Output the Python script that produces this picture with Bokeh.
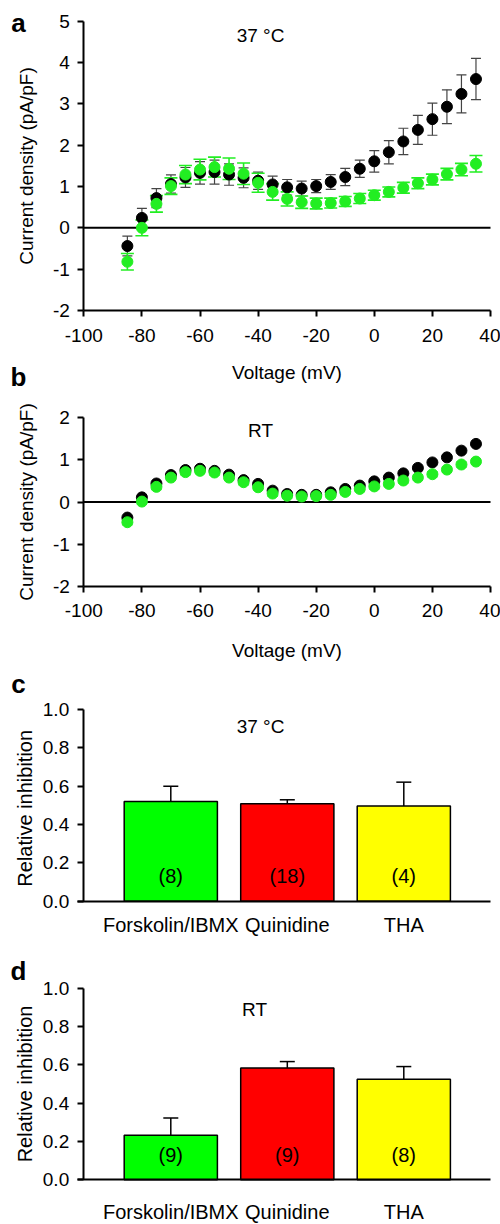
from bokeh.plotting import figure
from bokeh.layouts import column
from bokeh.models import (Range1d, Label, Whisker, TeeHead, ColumnDataSource,
                          FixedTicker, NumeralTickFormatter)
from bokeh.core.properties import value
from bokeh.embed import file_html
from bokeh.resources import INLINE

FONT = "Liberation Sans"

# ---------------- data ----------------
voltage = [-85, -80, -75, -70, -65, -60, -55, -50, -45, -40, -35, -30, -25,
           -20, -15, -10, -5, 0, 5, 10, 15, 20, 25, 30, 35]

a_black = [-0.44, 0.24, 0.72, 1.06, 1.22, 1.33, 1.35, 1.29, 1.21, 1.14, 1.05, 0.98, 0.95,
           1.01, 1.11, 1.23, 1.43, 1.61, 1.83, 2.09, 2.37, 2.63, 2.93, 3.24, 3.60]
a_black_err = [0.24, 0.23, 0.23, 0.22, 0.24, 0.27, 0.29, 0.26, 0.24, 0.21, 0.20, 0.19, 0.18,
               0.16, 0.18, 0.21, 0.21, 0.26, 0.28, 0.32, 0.35, 0.39, 0.41, 0.46, 0.50]
a_green = [-0.82, 0.00, 0.58, 1.01, 1.29, 1.41, 1.47, 1.43, 1.31, 1.09, 0.87, 0.70, 0.62,
           0.59, 0.60, 0.64, 0.71, 0.79, 0.87, 0.97, 1.08, 1.17, 1.30, 1.41, 1.55]
a_green_err = [0.20, 0.19, 0.20, 0.20, 0.22, 0.25, 0.24, 0.26, 0.26, 0.23, 0.20, 0.17, 0.15,
               0.13, 0.12, 0.12, 0.12, 0.12, 0.12, 0.13, 0.13, 0.13, 0.14, 0.15, 0.20]

b_black = [-0.37, 0.11, 0.44, 0.64, 0.76, 0.79, 0.74, 0.65, 0.52, 0.43, 0.27, 0.19, 0.17,
           0.17, 0.23, 0.31, 0.39, 0.49, 0.58, 0.68, 0.81, 0.94, 1.06, 1.22, 1.38]
b_black_err = [0.04, 0.04, 0.04, 0.04, 0.04, 0.04, 0.04, 0.04, 0.04, 0.04, 0.04, 0.04, 0.04,
               0.04, 0.04, 0.04, 0.04, 0.04, 0.04, 0.04, 0.04, 0.05, 0.05, 0.05, 0.06]
b_green = [-0.48, 0.01, 0.36, 0.58, 0.71, 0.74, 0.70, 0.58, 0.47, 0.35, 0.20, 0.15, 0.13,
           0.14, 0.17, 0.24, 0.31, 0.37, 0.43, 0.51, 0.58, 0.66, 0.77, 0.89, 0.96]
b_green_err = [0.06, 0.06, 0.06, 0.06, 0.06, 0.06, 0.06, 0.06, 0.06, 0.06, 0.06, 0.06, 0.06,
               0.06, 0.06, 0.06, 0.06, 0.06, 0.06, 0.06, 0.06, 0.06, 0.06, 0.06, 0.06]

x_ticks = [-100, -80, -60, -40, -20, 0, 20, 40]

drugs = ["Forskolin/IBMX", "Quinidine", "THA"]
bar_colors = ["#00ff00", "#ff0000", "#ffff00"]
c_vals = [0.52, 0.508, 0.496]
c_err = [0.08, 0.021, 0.125]
c_n = ["(8)", "(18)", "(4)"]
d_vals = [0.233, 0.584, 0.525]
d_err = [0.09, 0.033, 0.066]
d_n = ["(9)", "(9)", "(8)"]
bar_ticks = [0, 0.2, 0.4, 0.6, 0.8, 1.0]

GREEN = "#22ee22"
W = 500


class Panel:
    """A figure whose frame fills the canvas; axes are pinned with fixed_location."""

    def __init__(self, H, xd, xpx, yd, ypx):
        sx = (xpx[1] - xpx[0]) / (xd[1] - xd[0])
        sy = (ypx[1] - ypx[0]) / (yd[1] - yd[0])          # ypx: (top px, bottom px)
        self.x0 = xd[0] - xpx[0] / sx
        self.sx = sx
        self.y1 = yd[1] + ypx[0] / sy
        self.sy = sy
        x1 = xd[1] + (W - xpx[1]) / sx
        y0 = yd[0] - (H - ypx[1]) / sy
        self.p = figure(width=W, height=H, output_backend="svg", toolbar_location=None,
                        title=None, x_range=Range1d(self.x0, x1),
                        y_range=Range1d(y0, self.y1), min_border=0)

    def px(self, x):
        return self.x0 + x / self.sx

    def py(self, y):
        return self.y1 - y / self.sy


def style(p):
    p.xgrid.visible = False
    p.ygrid.visible = False
    p.outline_line_color = None
    p.background_fill_color = "white"
    p.border_fill_color = "white"
    for ax in (p.xaxis[0], p.yaxis[0]):
        ax.axis_line_width = 2
        ax.axis_line_color = "black"
        ax.major_tick_line_width = 2
        ax.major_tick_line_color = "black"
        ax.major_tick_out = 6
        ax.major_tick_in = 0
        ax.minor_tick_line_color = None
        ax.major_label_text_font = FONT
        ax.major_label_text_font_size = "19px"
        ax.major_label_text_color = "black"
        ax.axis_label_text_font = FONT
        ax.axis_label_text_font_size = "19px"
        ax.axis_label_text_font_style = "normal"
        ax.axis_label_text_color = "black"
    p.yaxis[0].major_label_standoff = 8


def letter(P, txt, xpx, ypx):
    P.p.add_layout(Label(x=P.px(xpx), y=P.py(ypx), text=txt,
                         text_font=FONT, text_font_size="26px",
                         text_font_style="bold", text_align="center",
                         text_baseline="middle", text_color="black"))


def iv_panel(H, ypx, yr, yticks, black, black_err, green, green_err,
             cond, cond_ypx, cap_g, cap_b, xlab_standoff):
    P = Panel(H, (x_ticks[0], x_ticks[-1]), (83.3, 490), yr, ypx)
    p = P.p
    style(p)
    xa, ya = p.xaxis[0], p.yaxis[0]
    xa.fixed_location = yr[0]
    xa.bounds = (x_ticks[0], x_ticks[-1])
    ya.fixed_location = x_ticks[0]
    ya.bounds = yr
    xa.ticker = FixedTicker(ticks=x_ticks)
    ya.ticker = FixedTicker(ticks=yticks)
    xa.major_label_overrides = {t: str(t) for t in x_ticks}
    ya.major_label_overrides = {t: str(t) for t in yticks}
    xa.major_label_standoff = 12
    xa.axis_label = "Voltage (mV)"
    xa.axis_label_standoff = xlab_standoff
    ya.axis_label = "Current density (pA/pF)"
    ya.axis_label_standoff = 13

    p.line(x=[x_ticks[0], x_ticks[-1]], y=[0, 0], line_color="black", line_width=2)

    sb = ColumnDataSource(dict(x=voltage, y=black,
                               lo=[v - e for v, e in zip(black, black_err)],
                               hi=[v + e for v, e in zip(black, black_err)]))
    sg = ColumnDataSource(dict(x=voltage, y=green,
                               lo=[v - e for v, e in zip(green, green_err)],
                               hi=[v + e for v, e in zip(green, green_err)]))
    p.add_layout(Whisker(source=sb, base="x", lower="lo", upper="hi",
                         line_color="#444444", line_width=1.2,
                         upper_head=TeeHead(size=cap_b, line_color="#444444", line_width=1.2),
                         lower_head=TeeHead(size=cap_b, line_color="#444444", line_width=1.2)))
    p.add_layout(Whisker(source=sg, base="x", lower="lo", upper="hi",
                         line_color=GREEN, line_width=1.6,
                         upper_head=TeeHead(size=cap_g, line_color=GREEN, line_width=1.6),
                         lower_head=TeeHead(size=cap_g, line_color=GREEN, line_width=1.6)))
    p.scatter("x", "y", source=sb, size=11, fill_color="black", line_color="black")
    p.scatter("x", "y", source=sg, size=11, fill_color=GREEN, line_color=GREEN)
    p.add_layout(Label(x=P.px(260), y=P.py(cond_ypx), text=cond, text_font=FONT,
                       text_font_size="19px", text_align="center",
                       text_baseline="middle", text_color="black"))
    return P


def bar_panel(H, ypx, vals, errs, ns, cond, cond_xpx, cond_ypx, ylabel, lab_standoff):
    xs = [1, 2, 3]
    P = Panel(H, (1, 3), (170.3, 403.3), (0, 1), ypx)
    p = P.p
    style(p)
    xa, ya = p.xaxis[0], p.yaxis[0]
    xa.fixed_location = 0
    xa.bounds = (P.px(76.7), P.px(490))
    ya.fixed_location = P.px(82.7)
    ya.bounds = (0, 1)
    xa.ticker = FixedTicker(ticks=xs)
    xa.major_label_overrides = {1: drugs[0], 2: drugs[1], 3: drugs[2]}
    xa.major_tick_out = 0
    xa.major_label_standoff = lab_standoff
    xa.major_label_text_font_size = "20px"
    ya.ticker = FixedTicker(ticks=bar_ticks)
    ya.formatter = NumeralTickFormatter(format="0.0")
    ya.axis_label = ylabel
    ya.axis_label_standoff = 4
    ya.axis_label_text_font_size = "20px"
    src = ColumnDataSource(dict(x=xs, top=vals, color=bar_colors,
                                hi=[v + e for v, e in zip(vals, errs)], n=ns,
                                ny=[0.13] * 3))
    p.vbar(x="x", top="top", width=0.8, bottom=0, source=src, fill_color="color",
           line_color="black", line_width=1.5)
    p.text(x="x", y="ny", text="n", source=src, text_font=value(FONT),
           text_font_size="20px", text_align="center", text_baseline="middle",
           text_color="black")
    p.add_layout(Whisker(source=src, base="x", lower="top", upper="hi",
                         line_color="black", line_width=1.5, level="annotation",
                         upper_head=TeeHead(size=15, line_color="black", line_width=1.5),
                         lower_head=None))
    p.add_layout(Label(x=P.px(cond_xpx), y=P.py(cond_ypx), text=cond, text_font=FONT,
                       text_font_size="19px", text_align="center",
                       text_baseline="middle", text_color="black"))
    return P


# panel a: canvas y 0..395 ; panel b: 395..668 ; panel c: 668..945 ; panel d: 945..1224
Pa = iv_panel(395, (20.7, 310), (-2, 5), [-2, -1, 0, 1, 2, 3, 4, 5],
              a_black, a_black_err, a_green, a_green_err, "37 °C", 35, 13, 10, 17)
letter(Pa, "a", 18, 22)
letter(Pa, "b", 18, 376)

Pb = iv_panel(273, (22.3, 190.7), (-2, 2), [-2, -1, 0, 1, 2],
              b_black, b_black_err, b_green, b_green_err, "RT", 35, 10, 8, 19)

Pc = bar_panel(277, (41, 232.7), c_vals, c_err, c_n, "37 °C", 260, 58,
               "Relative  inhibition", 13)
letter(Pc, "c", 18, 15)

Pd = bar_panel(279, (42.7, 234.3), d_vals, d_err, d_n, "RT", 254, 64,
               "Relative inhibition", 21)
letter(Pd, "d", 18, 25)

layout = column(Pa.p, Pb.p, Pc.p, Pd.p)
open("out.html", "w").write(file_html(layout, INLINE))
